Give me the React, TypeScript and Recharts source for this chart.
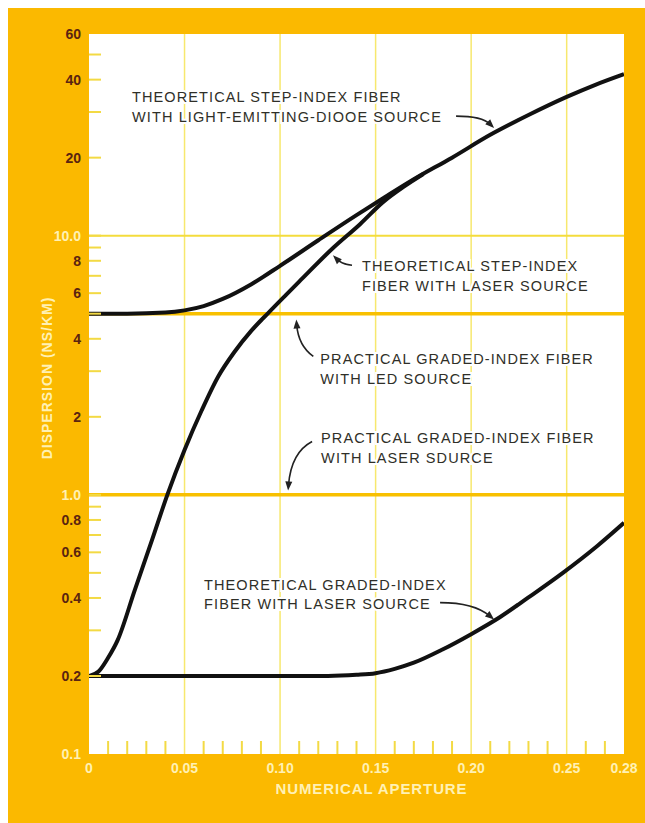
import { LineChart, Line, XAxis, YAxis, CartesianGrid, ReferenceLine, ReferenceDot } from 'recharts';

// theoretical step-index fiber, LED source
const stepIndexLed = [
  { x: 0, y: 5.0 }, { x: 0.02, y: 5.0 }, { x: 0.04, y: 5.05 }, { x: 0.05, y: 5.15 },
  { x: 0.06, y: 5.35 }, { x: 0.07, y: 5.7 }, { x: 0.085, y: 6.5 }, { x: 0.1, y: 7.65 },
  { x: 0.12, y: 9.6 }, { x: 0.14, y: 12.0 }, { x: 0.155, y: 14.1 }, { x: 0.17, y: 16.5 },
  { x: 0.19, y: 20.0 }, { x: 0.21, y: 24.5 }, { x: 0.23, y: 29.2 }, { x: 0.25, y: 34.3 },
  { x: 0.265, y: 38.2 }, { x: 0.28, y: 42 },
];

// theoretical step-index fiber, laser source
const stepIndexLaser = [
  { x: 0, y: 0.2 }, { x: 0.005, y: 0.208 }, { x: 0.01, y: 0.235 }, { x: 0.015, y: 0.275 },
  { x: 0.024, y: 0.43 }, { x: 0.033, y: 0.67 }, { x: 0.041, y: 1.0 }, { x: 0.05, y: 1.49 },
  { x: 0.059, y: 2.12 }, { x: 0.0675, y: 2.85 }, { x: 0.076, y: 3.55 }, { x: 0.085, y: 4.3 },
  { x: 0.094, y: 5.05 }, { x: 0.103, y: 5.9 }, { x: 0.11, y: 6.65 }, { x: 0.128, y: 9.0 },
  { x: 0.142, y: 11.1 }, { x: 0.154, y: 13.5 }, { x: 0.165, y: 15.5 }, { x: 0.175, y: 17.3 },
];

// theoretical graded-index fiber, laser source
const gradedLaser = [
  { x: 0, y: 0.2 }, { x: 0.05, y: 0.2 }, { x: 0.1, y: 0.2 }, { x: 0.125, y: 0.2 },
  { x: 0.14, y: 0.202 }, { x: 0.15, y: 0.205 }, { x: 0.16, y: 0.213 }, { x: 0.17, y: 0.225 },
  { x: 0.185, y: 0.253 }, { x: 0.2, y: 0.29 }, { x: 0.215, y: 0.337 }, { x: 0.23, y: 0.402 },
  { x: 0.248, y: 0.5 }, { x: 0.266, y: 0.635 }, { x: 0.28, y: 0.78 },
];

// practical graded-index fibers
const practicalLed = [{ x: 0, y: 5 }, { x: 0.28, y: 5 }];
const practicalLaser = [{ x: 0, y: 1 }, { x: 0.28, y: 1 }];

const xTicks = [
  0, 0.01, 0.02, 0.03, 0.04, 0.05, 0.06, 0.07, 0.08, 0.09, 0.1, 0.11, 0.12, 0.13, 0.14,
  0.15, 0.16, 0.17, 0.18, 0.19, 0.2, 0.21, 0.22, 0.23, 0.24, 0.25, 0.26, 0.27, 0.28,
];
const xLabels = ['0', '0.05', '0.10', '0.15', '0.20', '0.25', '0.28'];
const xGrid = [0.05, 0.1, 0.15, 0.2, 0.25];

const yTicks = [0.1, 0.2, 0.3, 0.4, 0.5, 0.6, 0.7, 0.8, 0.9, 1, 2, 3, 4, 5, 6, 7, 8, 9, 10, 20, 30, 40, 50, 60];
const yLabels = ['0.1', '0.2', '0.4', '0.6', '0.8', '1.0', '2', '4', '6', '8', '10.0', '20', '40', '60'];
const yLightLabels = ['0.1', '1.0', '10.0'];

const notes = [
  { x: 0.212, y: 26, lines: ['THEORETICAL STEP-INDEX FIBER', 'WITH LIGHT-EMITTING-DIOOE SOURCE'], tx: -362, ty: -26, tail: [-38, -12], ctrl: [-12, -12] },
  { x: 0.1277, y: 8.4, lines: ['THEORETICAL STEP-INDEX', 'FIBER WITH LASER SOURCE'], tx: 29, ty: 16, tail: [19, 10], ctrl: [9, 9] },
  { x: 0.1085, y: 4.75, lines: ['PRACTICAL GRADED-INDEX FIBER', 'WITH LED SOURCE'], tx: 24, ty: 45, tail: [17, 37], ctrl: [2, 26] },
  { x: 0.1042, y: 1.04, lines: ['PRACTICAL GRADED-INDEX FIBER', 'WITH LASER SDURCE'], tx: 33, ty: -47, tail: [24, -49], ctrl: [3, -38] },
  { x: 0.212, y: 0.33, lines: ['THEORETICAL GRADED-INDEX', 'FIBER WITH LASER SOURCE'], tx: -290, ty: -30, tail: [-54, -17], ctrl: [-20, -17] },
];

const ORANGE = '#fbb900';
const CREAM = '#fff1b4';
const BROWN = '#5a2410';
const TICK_YELLOW = '#f3da44';
const FONT = "'Liberation Sans', Arial, sans-serif";

const fmtX = (v: number) => xLabels.find((l) => Math.abs(parseFloat(l) - v) < 1e-6);
const fmtY = (v: number) => yLabels.find((l) => Math.abs(parseFloat(l) - v) < 1e-6);

function XTick({ x, y, payload }: any) {
  const label = fmtX(payload.value);
  return (
    <g>
      {!label && <line x1={x} x2={x} y1={y} y2={y - 13} stroke={TICK_YELLOW} strokeWidth={2} />}
      {label && (
        <text x={x} y={y + 19} textAnchor="middle" fill={CREAM} fontFamily={FONT} fontWeight="bold" fontSize={14}>
          {label}
        </text>
      )}
    </g>
  );
}

function YTick({ x, y, payload }: any) {
  const v = payload.value;
  const label = fmtY(v);
  return (
    <g>
      {v > 0.1 && v < 60 && <line x1={x} x2={x + 12} y1={y} y2={y} stroke={TICK_YELLOW} strokeWidth={2} />}
      {label && (
        <text x={x - 8} y={y} dy="0.36em" textAnchor="end" fill={yLightLabels.includes(label) ? CREAM : BROWN}
          fontFamily={FONT} fontWeight="bold" fontSize={14}>
          {label}
        </text>
      )}
    </g>
  );
}

function Note({ cx, cy, note }: any) {
  const [tx0, ty0] = note.tail;
  const [qx, qy] = note.ctrl;
  const ang = Math.atan2(-qy, -qx);
  const len = 9;
  const w = 3.5;
  const bx = -Math.cos(ang) * len;
  const by = -Math.sin(ang) * len;
  const px = -Math.sin(ang) * w;
  const py = Math.cos(ang) * w;
  return (
    <g transform={`translate(${cx},${cy})`}>
      <path d={`M ${tx0} ${ty0} Q ${qx} ${qy} ${bx * 0.6} ${by * 0.6}`} fill="none" stroke="#222" strokeWidth={1.6} />
      <path d={`M 0 0 L ${bx + px} ${by + py} L ${bx - px} ${by - py} Z`} fill="#222" />
      {note.lines.map((t: string, i: number) => (
        <text key={i} x={note.tx} y={note.ty + i * 19.5} fill="#2f2f28" fontFamily={FONT} fontSize={14.5}
          letterSpacing={1.1} stroke="#fff" strokeWidth={4} paintOrder="stroke">
          {t}
        </text>
      ))}
    </g>
  );
}

export default function App() {
  return (
    <div style={{ position: 'fixed', left: 8, top: 8, right: 0, bottom: 0, background: ORANGE }}>
      <LineChart width={637} height={815} margin={{ top: 26, right: 21, left: 0, bottom: 0 }}>
        <CartesianGrid fill="#ffffff" horizontal={false} vertical={false} />
        <XAxis
          type="number"
          dataKey="x"
          domain={[0, 0.28]}
          ticks={xTicks}
          interval={0}
          allowDataOverflow
          axisLine={false}
          tickLine={false}
          tickSize={0}
          tickMargin={0}
          height={69}
          tick={<XTick />}
          label={(p: any) => (
            <text x={p.viewBox.x + p.viewBox.width / 2 + 15} y={p.viewBox.y + 40} textAnchor="middle"
              fill={CREAM} fontFamily={FONT} fontWeight="bold" fontSize={15} letterSpacing={0.9}>
              NUMERICAL APERTURE
            </text>
          )}
        />
        <YAxis
          type="number"
          dataKey="y"
          scale="log"
          domain={[0.1, 60]}
          ticks={yTicks}
          interval={0}
          allowDataOverflow
          axisLine={false}
          tickLine={false}
          tickSize={0}
          tickMargin={0}
          width={81}
          tick={<YTick />}
          label={(p: any) => {
            const cx = p.viewBox.x + 39;
            const cy = p.viewBox.y + p.viewBox.height / 2 - 16;
            return (
              <text x={cx} y={cy} transform={`rotate(-90 ${cx} ${cy})`} textAnchor="middle" dy="0.36em"
                fill={CREAM} fontFamily={FONT} fontWeight="bold" fontSize={14} letterSpacing={1}>
                DISPERSION (NS/KM)
              </text>
            );
          }}
        />
        {xGrid.map((g) => (
          <ReferenceLine key={g} x={g} stroke="#f7e86e" strokeWidth={1.5} />
        ))}
        <ReferenceLine y={10} stroke="#f4dc3c" strokeWidth={2} />
        <Line data={practicalLed} dataKey="y" stroke="#f8c000" strokeWidth={3.5} dot={false} activeDot={false} isAnimationActive={false} />
        <Line data={practicalLaser} dataKey="y" stroke="#f8c000" strokeWidth={3.5} dot={false} activeDot={false} isAnimationActive={false} />
        <Line data={stepIndexLed} dataKey="y" type="monotone" stroke="#111" strokeWidth={4} dot={false} activeDot={false} isAnimationActive={false} />
        <Line data={stepIndexLaser} dataKey="y" type="monotone" stroke="#111" strokeWidth={4} dot={false} activeDot={false} isAnimationActive={false} />
        <Line data={gradedLaser} dataKey="y" type="monotone" stroke="#111" strokeWidth={4} dot={false} activeDot={false} isAnimationActive={false} />
        {notes.map((n, i) => (
          <ReferenceDot key={i} x={n.x} y={n.y} r={0} ifOverflow="visible"
            shape={(p: any) => <Note cx={p.cx} cy={p.cy} note={n} />} />
        ))}
      </LineChart>
    </div>
  );
}
